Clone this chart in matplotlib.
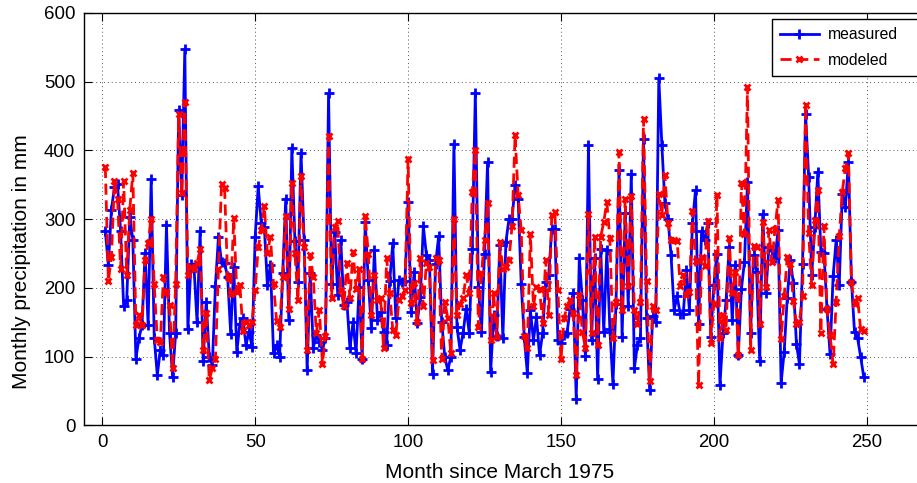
import numpy as np
import matplotlib
matplotlib.use("Agg")
import matplotlib.pyplot as plt

plt.rcParams['font.family'] = ['Liberation Sans', 'DejaVu Sans']

# monthly precipitation (mm), months 1..249 since March 1975
measured = [
    283, 233, 314, 347, 351, 283, 173, 182, 303, 270, 97, 127, 146, 251, 146, 358, 127, 73, 110, 102,
    292, 134, 71, 134, 459, 335, 548, 140, 235, 230, 150, 283, 93, 180, 100, 88, 203, 274, 238, 236,
    216, 133, 231, 107, 148, 156, 117, 136, 114, 274, 348, 294, 289, 204, 234, 105, 117, 100, 221, 330,
    153, 404, 269, 209, 397, 270, 80, 221, 113, 131, 122, 110, 127, 483, 206, 282, 190, 270, 175, 180,
    112, 150, 105, 202, 97, 296, 211, 141, 255, 153, 165, 136, 117, 210, 265, 156, 211, 209, 210, 325,
    165, 223, 149, 187, 290, 248, 240, 75, 235, 275, 151, 100, 80, 100, 410, 143, 110, 135, 170, 135,
    257, 484, 202, 136, 250, 383, 77, 160, 130, 262, 127, 267, 300, 300, 350, 330, 206, 129, 76, 168,
    124, 158, 102, 134, 209, 219, 286, 286, 124, 120, 131, 135, 170, 193, 39, 243, 182, 101, 408, 124,
    244, 68, 256, 136, 255, 140, 60, 177, 372, 129, 309, 174, 366, 83, 117, 127, 417, 156, 52, 159,
    151, 505, 408, 323, 301, 248, 168, 188, 162, 162, 226, 168, 294, 342, 148, 283, 270, 294, 129, 204,
    250, 59, 134, 182, 259, 153, 233, 102, 198, 238, 354, 134, 248, 223, 93, 307, 192, 259, 255, 243,
    284, 62, 107, 186, 241, 207, 119, 89, 235, 453, 362, 219, 288, 369, 253, 251, 170, 104, 217, 270,
    204, 337, 318, 383, 209, 136, 127, 100, 71,
]
modeled = [
    376, 210, 245, 356, 330, 228, 355, 219, 314, 367, 146, 160, 146, 240, 265, 301, 205, 124, 122, 216,
    194, 175, 83, 206, 453, 338, 471, 219, 231, 228, 236, 256, 110, 163, 66, 83, 96, 228, 351, 345,
    216, 191, 302, 194, 204, 138, 151, 146, 151, 197, 259, 284, 319, 251, 274, 206, 152, 143, 216, 304,
    169, 352, 251, 182, 363, 260, 110, 248, 216, 134, 168, 90, 130, 421, 186, 289, 297, 197, 174, 237,
    185, 253, 199, 228, 96, 304, 250, 161, 219, 182, 185, 113, 243, 193, 139, 131, 182, 188, 197, 387,
    178, 207, 151, 243, 173, 237, 231, 95, 243, 241, 96, 180, 156, 105, 300, 160, 177, 185, 219, 193,
    340, 400, 143, 221, 270, 323, 124, 192, 129, 267, 228, 231, 241, 290, 422, 335, 285, 130, 112, 278,
    173, 202, 199, 149, 241, 160, 306, 311, 197, 96, 156, 173, 182, 163, 73, 190, 136, 113, 308, 134,
    274, 117, 274, 296, 325, 272, 127, 180, 398, 168, 330, 203, 334, 168, 148, 180, 446, 210, 65, 173,
    168, 337, 306, 364, 295, 270, 270, 269, 203, 219, 190, 194, 312, 239, 59, 245, 232, 298, 120, 177,
    335, 127, 160, 139, 272, 192, 223, 102, 353, 278, 493, 109, 261, 259, 148, 296, 202, 285, 238, 286,
    328, 125, 188, 245, 235, 181, 148, 151, 188, 466, 280, 204, 299, 342, 135, 290, 170, 131, 89, 180,
    275, 340, 374, 396, 209, 177, 186, 140, 138,
]
months = np.arange(1, len(measured) + 1)

xticks = [0, 50, 100, 150, 200, 250]
yticks = [0, 100, 200, 300, 400, 500, 600]

W, H = 917, 483
fig = plt.figure(figsize=(W / 100, H / 100), dpi=100)
ax = fig.add_axes([83.6 / W, 57.6 / H, 844 / W, 412.4 / H])

ax.plot(months, measured, color='blue', linestyle='-', linewidth=2,
        marker='+', markersize=7, markeredgewidth=2, label='measured')
ax.plot(months, modeled, color='red', linestyle='--', linewidth=2,
        dashes=(4, 2), marker='x', markersize=5, markeredgewidth=2, label='modeled')

ax.set_xlim(-6.1, 269.9)
ax.set_ylim(0, 600)
ax.set_xticks(xticks)
ax.set_yticks(yticks)
ax.tick_params(direction='in', top=True, right=True, length=6, labelsize=13.4, pad=6)
ax.grid(True, linestyle=(0, (1, 3)), color='#555555', linewidth=0.7)
for s in ax.spines.values():
    s.set_linewidth(1)

fig.text(499.6 / W, 5.5 / H, 'Month since March 1975', fontsize=15,
         ha='center', va='baseline')
fig.text(12 / W, 221.5 / H, 'Monthly precipitation in mm', fontsize=15,
         rotation=90, ha='left', va='center')

top = (H - 19.3) / H
leg = fig.legend(loc='upper left', bbox_to_anchor=(772.3 / W, top - 0.2, (921 - 772.3) / W, 0.2),
                 mode='expand', fancybox=False, edgecolor='black', framealpha=1, fontsize=11.3,
                 handlelength=2.45, handletextpad=0.6, borderaxespad=0, borderpad=0.5,
                 labelspacing=0.68)
leg.get_frame().set_linewidth(1)

fig.savefig('out.png', dpi=100)
